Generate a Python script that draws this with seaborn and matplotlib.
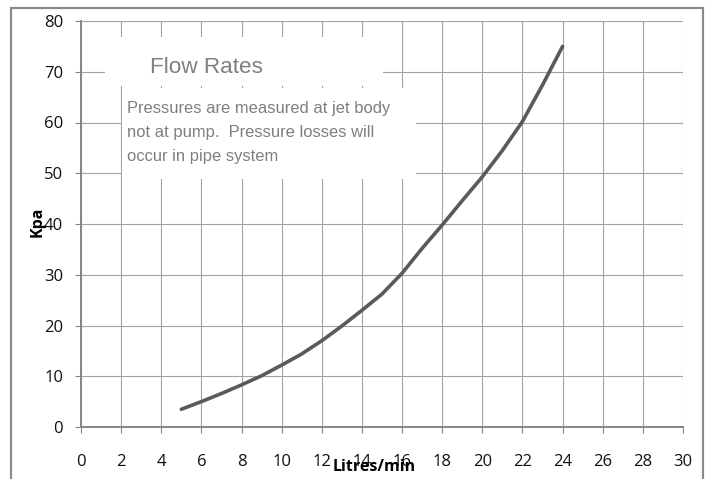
import matplotlib
matplotlib.use("Agg")
import matplotlib.pyplot as plt
from matplotlib.patches import Rectangle
import seaborn as sns
import pandas as pd

# Flow rate (litres/min) vs pressure (Kpa)
litres_per_min = [5, 6, 7, 8, 9, 10, 11, 12, 13, 14, 15, 16, 17, 18, 19, 20, 21, 22, 23, 24]
pressure_kpa = [3.5, 5.0, 6.6, 8.3, 10.1, 12.2, 14.4, 17.0, 19.9, 23.0, 26.2, 30.3,
                35.2, 39.8, 44.6, 49.3, 54.5, 60.2, 67.4, 75.0]

x_ticks = list(range(0, 31, 2))
y_ticks = list(range(0, 81, 10))

title_text = "Flow Rates"
note_lines = ["Pressures are measured at jet body",
              "not at pump.  Pressure losses will",
              "occur in pipe system"]

df = pd.DataFrame({"Litres/min": litres_per_min, "Kpa": pressure_kpa})

sns.set_theme(style="white")
plt.rcParams['font.family'] = ['Open Sans', 'DejaVu Sans']

W, H = 709, 479
fig = plt.figure(figsize=(W / 100, H / 100), dpi=100)
fig.patch.set_facecolor("white")

# plot area in pixels: x 81..683, y 21..427
ax = fig.add_axes([81 / W, 1 - 427 / H, 602 / W, 406 / H])

sns.lineplot(data=df, x="Litres/min", y="Kpa", ax=ax, color="#5a5a5a",
             linewidth=2.6, solid_capstyle="round", zorder=2)

ax.set_xlim(0, 30)
ax.set_ylim(0, 80)
ax.set_xticks(x_ticks)
ax.set_yticks(y_ticks)
ax.set_xticklabels([str(t) for t in x_ticks])
ax.set_yticklabels([str(t) for t in y_ticks])
ax.set_xlabel("")
ax.set_ylabel("")

ax.set_axisbelow(True)
ax.grid(True, color="#a3a3a3", linewidth=0.8)
for side in ["top", "right"]:
    ax.spines[side].set_visible(False)
for side in ["left", "bottom"]:
    ax.spines[side].set_color("#858585")
    ax.spines[side].set_linewidth(1.4)

ax.tick_params(axis="x", which="major", bottom=True, length=4.3, width=0.8,
               color="#858585", pad=15.5, labelsize=12, labelcolor="#111111")
ax.tick_params(axis="y", which="major", left=True, length=4.3, width=0.8,
               color="#858585", pad=8.6, labelsize=12, labelcolor="#111111")

# white text boxes sitting over the gridlines
ax.add_patch(Rectangle((0.0399, 0.8399), 0.4618, 0.1207, transform=ax.transAxes,
                       facecolor="white", edgecolor="none", zorder=3))
ax.add_patch(Rectangle((0.0681, 0.6108), 0.4884, 0.2242, transform=ax.transAxes,
                       facecolor="white", edgecolor="none", zorder=3))

narrow = ["Liberation Sans", "DejaVu Sans"]
fig.text(207 / W, 1 - 73 / H, title_text, ha="center", va="baseline",
         fontsize=16.2, color="#7f7f7f", family=narrow, zorder=5)
for i, line in enumerate(note_lines):
    fig.text(127 / W, 1 - (113 + 24 * i) / H, line, ha="left", va="baseline",
             fontsize=11.9, color="#7f7f7f", family=narrow, zorder=5)

# axis titles overlap the tick labels, as in the original
fig.text(38 / W, 1 - 222 / H, "Kpa", rotation=90, ha="center", va="center",
         fontsize=11.5, fontweight="bold", color="#000000")
fig.text(374 / W, 1 - 471 / H, "Litres/min", ha="center", va="baseline",
         fontsize=11.5, fontweight="bold", color="#000000")

# outer chart border (bottom edge falls outside the image)
fig.patches.append(Rectangle((11 / W, -0.05), 692 / W, 1.05 - 8 / H,
                             transform=fig.transFigure, fill=False,
                             edgecolor="#8a8a8a", linewidth=1.6))

plt.savefig("out.png", dpi=100)
plt.close()
